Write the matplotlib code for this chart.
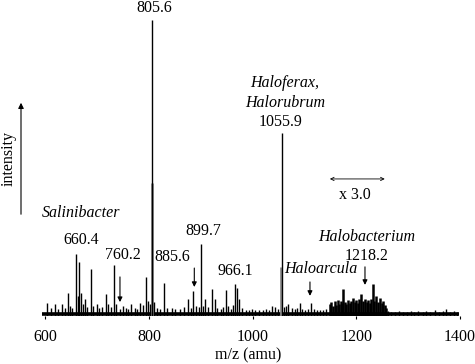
import matplotlib
matplotlib.use('Agg')
import matplotlib.pyplot as plt

plt.rcParams['font.family'] = ['Liberation Serif', 'DejaVu Serif']

# peak list: m/z and relative intensity (% of 805.6)
peak_mz = [602, 610, 618, 624, 631, 637, 643, 648, 652, 659, 662, 665, 668, 672, 676, 681,
           687, 692, 699, 704, 710, 716, 721, 726, 732, 737, 743, 749, 755, 760, 766, 772,
           777, 782, 788, 794, 798, 802, 805.6, 809, 815, 821, 829, 835, 844, 851, 860, 867,
           874.5, 880, 885, 891, 896, 900.5, 904, 908, 914, 921, 927, 932, 938, 943, 948, 953,
           958, 962, 966, 970, 974, 980, 987, 992, 998, 1005, 1012, 1019, 1025, 1031, 1037,
           1043, 1049, 1055.9, 1060, 1064, 1069, 1075, 1081, 1086, 1091, 1096, 1101, 1106,
           1112, 1118, 1124, 1130, 1136, 1142]
peak_int = [4.4, 2.7, 4.1, 2.4, 4.1, 2.7, 7.8, 3.4, 2.7, 21.0, 6.8, 18.2, 7.8, 4.1, 5.7, 3.0,
            15.9, 3.4, 4.1, 2.7, 3.0, 7.4, 4.1, 3.0, 17.2, 4.1, 2.4, 3.4, 2.7, 2.4, 4.1, 2.7,
            2.4, 4.4, 3.7, 13.2, 5.1, 4.1, 100.0, 4.7, 2.7, 2.4, 11.1, 2.7, 2.7, 2.4, 2.4, 3.0,
            5.7, 2.7, 8.4, 3.4, 3.0, 24.3, 3.4, 5.7, 3.0, 9.1, 5.7, 2.7, 2.4, 3.0, 8.8, 3.4,
            2.4, 3.7, 10.8, 9.5, 5.7, 2.7, 2.0, 2.0, 2.4, 2.0, 2.0, 2.0, 2.4, 2.0, 3.4,
            3.0, 2.4, 61.8, 3.0, 3.4, 4.1, 2.7, 2.4, 2.7, 4.4, 2.4, 2.0, 2.4,
            4.4, 2.4, 2.0, 2.0, 2.0, 2.4]

# dense x3.0 region 1150-1258 and the tail
block_mz = [1149, 1152, 1155, 1158, 1161, 1164, 1167, 1170, 1173, 1175, 1178, 1181, 1184, 1187,
            1190, 1194, 1197, 1200, 1203, 1206, 1210, 1213, 1217, 1220, 1223, 1226, 1229, 1232,
            1235, 1239, 1242, 1246, 1249, 1252, 1255, 1258]
block_int = [4.1, 4.7, 3.4, 5.1, 3.7, 5.4, 4.1, 5.1, 4.4, 9.1, 4.7, 4.1, 5.4, 4.4,
             5.1, 6.1, 4.7, 5.4, 4.4, 5.7, 7.4, 5.1, 5.7, 4.7, 5.4, 4.4, 5.7, 10.8,
             5.1, 6.8, 4.7, 6.1, 4.4, 5.1, 3.7, 2.7]
tail_mz = [1262, 1268, 1275, 1282, 1290, 1298, 1305, 1312, 1320, 1328, 1335, 1342, 1352, 1360,
           1368, 1374, 1380, 1388, 1395]
tail_int = [1.7, 1.4, 1.4, 1.7, 1.4, 1.4, 1.7, 1.4, 1.7, 1.4, 1.7, 1.4, 2.0, 1.4,
            1.7, 2.4, 1.4, 1.7, 1.4]

# grey shoulders on the two main peaks
grey_mz = [805.0, 1055.3]
grey_int = [45.0, 16.6]

# annotations
num_labels = ['805.6', '660.4', '760.2', '885.6', '899.7', '966.1', '1055.9', '1218.2']
num_pos = [(809.5, 104.0), (668.5, 25.7), (749.6, 20.6), (844.2, 19.9), (904, 28.7),
           (965.8, 15.2), (1054.6, 65.5), (1220.7, 20.3)]
genus_labels = ['Salinibacter', 'Haloferax,', 'Halorubrum', 'Haloarcula', 'Halobacterium']
genus_pos = [(668.5, 34.8), (1062.4, 78.7), (1062.4, 72.0), (1131.9, 15.9), (1220.7, 26.8)]
arrow_mz = [743.8, 887.3, 1110.6, 1216.8]
arrow_top = [13.2, 16.2, 11.5, 16.6]
arrow_bot = [4.7, 9.8, 6.8, 10.5]
xticks = [600, 800, 1000, 1200, 1400]

fig = plt.figure(figsize=(4.75, 3.64), dpi=100)
ax = fig.add_axes([0, 48 / 364, 1, 316 / 364])
ax.set_xlim(512.2, 1429.2)
ax.set_ylim(0, 106.75)

ax.hlines(0.7, 594, 1398, color='black', lw=2.6)
ax.vlines(grey_mz, 0, grey_int, color='#8a8a8a', lw=2.0)
ax.vlines(peak_mz, 0, peak_int, color='black', lw=1.0)
ax.vlines(block_mz, 0, block_int, color='black', lw=1.8)
ax.vlines(tail_mz, 0, tail_int, color='black', lw=1.0)

fs = 11.5
for t, (x, y) in zip(num_labels, num_pos):
    ax.text(x, y, t, ha='center', va='center', fontsize=fs)
for t, (x, y) in zip(genus_labels, genus_pos):
    ax.text(x, y, t, ha='center', va='center', fontsize=fs, style='italic')

for x, y0, y1 in zip(arrow_mz, arrow_top, arrow_bot):
    ax.annotate('', xy=(x, y1), xytext=(x, y0),
                arrowprops=dict(arrowstyle='-|>', color='black', lw=0.8, mutation_scale=7,
                                shrinkA=0, shrinkB=0))

# x 3.0 range marker
ax.annotate('', xy=(1149, 46.3), xytext=(1255, 46.3),
            arrowprops=dict(arrowstyle='<->', color='black', lw=0.6, mutation_scale=6,
                            shrinkA=0, shrinkB=0))
ax.text(1197.5, 40.9, 'x 3.0', ha='center', va='center', fontsize=fs)

ax.set_xticks(xticks)
ax.set_xticklabels([str(v) for v in xticks], fontsize=fs)
ax.tick_params(axis='x', length=2.5, width=0.8, direction='out', pad=7)
ax.set_yticks([])
for s in ax.spines.values():
    s.set_visible(False)

fig.text(248 / 475, 1 - 355 / 364, 'm/z (amu)', ha='center', va='center', fontsize=fs)
fig.text(9 / 475, 1 - 158 / 364, 'intensity', ha='center', va='center', fontsize=fs, rotation=90)
fig.patches.append(matplotlib.patches.FancyArrowPatch(
    (21 / 475, 1 - 217 / 364), (21 / 475, 1 - 100 / 364), transform=fig.transFigure,
    arrowstyle='-|>', mutation_scale=8, lw=0.8, color='black'))

fig.savefig('out.png', dpi=100)
